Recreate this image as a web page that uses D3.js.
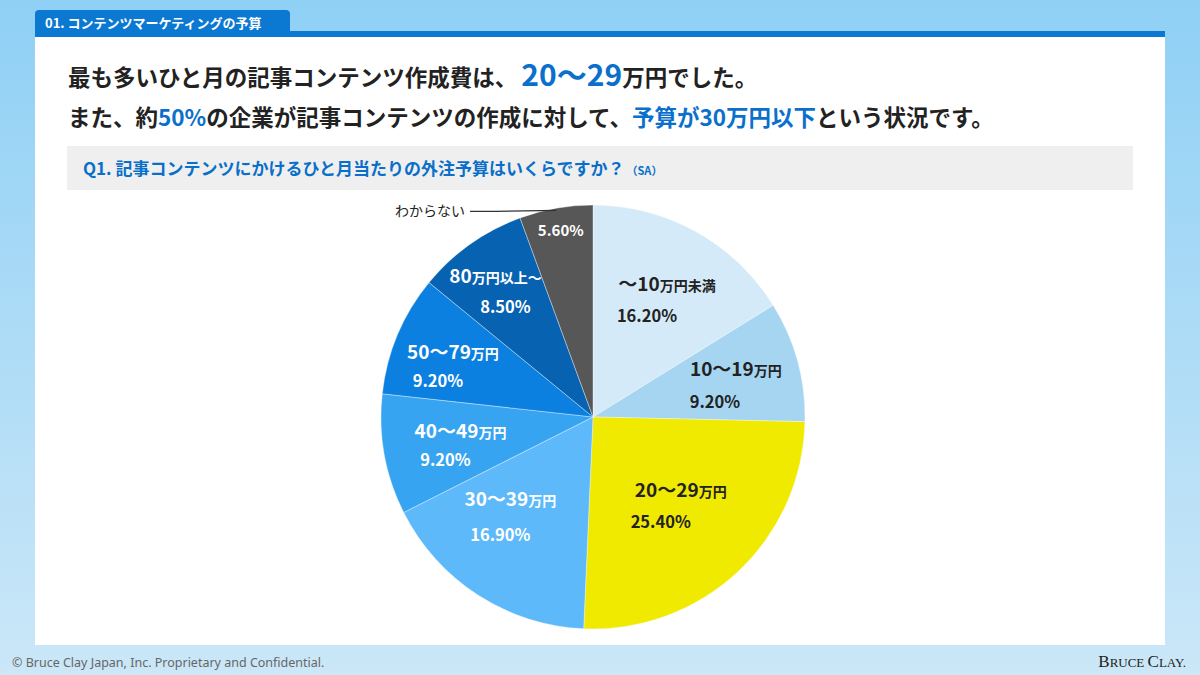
<!DOCTYPE html>
<html lang="ja">
<head>
<meta charset="UTF-8">
<title>コンテンツマーケティングの予算</title>
<script src="https://d3js.org/d3.v7.min.js"></script>
<style>
  body { margin: 0; }
  svg { display: block; }
</style>
</head>
<body>
<script>
    // data
    const rangeMain = ["〜10", "10〜19", "20〜29", "30〜39", "40〜49", "50〜79", "80", ""];
    const rangeUnit = ["万円未満", "万円", "万円", "万円", "万円", "万円", "万円以上〜", ""];
    const categories = ["〜10万円未満", "10〜19万円", "20〜29万円", "30〜39万円", "40〜49万円", "50〜79万円", "80万円以上〜", "わからない"];
    const values = [16.2, 9.2, 25.4, 16.9, 9.2, 9.2, 8.5, 5.6];
    const colors = ["#d5eaf8", "#a6d5f1", "#f0e900", "#5db9f9", "#37a4f2", "#0b80e0", "#0862b2", "#575757"];
    const textColors = ["#222", "#222", "#222", "#fff", "#fff", "#fff", "#fff", "#fff"];

    // hand placement tweaks of the labels, as in the original slide
    const labelNudge = [[0, 1], [4, 3], [-13, -11], [-17, -17], [-7, 5], [-23, 3], [-27, -15], [0, 0]];
    const pctNudge = [[-4, 0], [-1, 3], [-17, -12], [-11, -14], [-6, 1], [-22, -1], [-1, -17], [0, 0]];

    const WIDTH = 1200, HEIGHT = 675;
    const cx = 593, cy = 417, R = 212;
    const FONT = "'Noto Sans CJK JP', 'Noto Sans', sans-serif";

    const svg = d3.select("body").append("svg").attr("width", WIDTH).attr("height", HEIGHT)
        .style("font-family", FONT);

    // background
    const defs = svg.append("defs");
    const grad = defs.append("linearGradient").attr("id", "bg").attr("x1", 0).attr("y1", 0).attr("x2", 0).attr("y2", 1);
    grad.append("stop").attr("offset", "0%").attr("stop-color", "#8fd0f5");
    grad.append("stop").attr("offset", "100%").attr("stop-color", "#cbe7f8");
    svg.append("rect").attr("width", WIDTH).attr("height", HEIGHT).attr("fill", "url(#bg)");

    // panel
    svg.append("rect").attr("x", 35).attr("y", 36).attr("width", 1130).attr("height", 609).attr("fill", "#fff");
    svg.append("rect").attr("x", 35).attr("y", 31).attr("width", 1130).attr("height", 6).attr("fill", "#0b78d2");
    svg.append("path").attr("d", "M35,37 V14 Q35,10 39,10 H286 Q290,10 290,14 V37 Z").attr("fill", "#0b78d2");
    svg.append("text").attr("x", 45).attr("y", 28).attr("fill", "#fff")
        .attr("font-size", 13).attr("font-weight", 700).text("01. コンテンツマーケティングの予算");

    // headline
    const h1 = svg.append("text").attr("x", 68).attr("y", 86).attr("font-size", 22.5).attr("font-weight", 700).attr("fill", "#222");
    h1.append("tspan").text("最も多いひと月の記事コンテンツ作成費は、");
    h1.append("tspan").attr("fill", "#0a70cc").attr("font-size", 30).attr("dx", 4).text("20〜29");
    h1.append("tspan").text("万円でした。");

    const h2 = svg.append("text").attr("x", 68).attr("y", 126).attr("font-size", 22.5).attr("font-weight", 700).attr("fill", "#222");
    h2.append("tspan").text("また、約");
    h2.append("tspan").attr("fill", "#0a70cc").text("50%");
    h2.append("tspan").text("の企業が記事コンテンツの作成に対して、");
    h2.append("tspan").attr("fill", "#0a70cc").text("予算が30万円以下");
    h2.append("tspan").text("という状況です。");

    // question bar
    svg.append("rect").attr("x", 67).attr("y", 146).attr("width", 1066).attr("height", 44).attr("fill", "#efefef");
    const q = svg.append("text").attr("x", 83).attr("y", 175).attr("font-size", 17).attr("font-weight", 700).attr("fill", "#0a6fc8");
    q.append("tspan").text("Q1. 記事コンテンツにかけるひと月当たりの外注予算はいくらですか？");
    q.append("tspan").attr("font-size", 11).attr("dx", 2).text("（SA）");

    // pie
    const pie = d3.pie().sort(null).value(d => d);
    const arcs = pie(values);
    const arc = d3.arc().innerRadius(0).outerRadius(R);
    const g = svg.append("g").attr("transform", `translate(${cx},${cy})`);

    g.selectAll("path.slice").data(arcs).join("path")
        .attr("class", "slice")
        .attr("d", arc)
        .attr("fill", (d, i) => colors[i])
        .attr("stroke", "rgba(255,255,255,0.45)")
        .attr("stroke-width", 0.8);

    // labels
    const labelArc = d3.arc().innerRadius(R * 0.64).outerRadius(R * 0.64);
    const smallArc = d3.arc().innerRadius(R * 0.87).outerRadius(R * 0.87);
    const fmt = d3.format(".2f");

    arcs.forEach((d, i) => {
        const small = values[i] < 6;
        const [x, y] = small ? smallArc.centroid(d) : labelArc.centroid(d);
        const col = textColors[i];
        if (!small) {
            const t = g.append("text").attr("x", x + 8 + labelNudge[i][0]).attr("y", y - 8 + labelNudge[i][1])
                .attr("text-anchor", "middle").attr("font-weight", 700).attr("fill", col);
            t.append("tspan").attr("font-size", 19).text(rangeMain[i]);
            t.append("tspan").attr("font-size", 14).text(rangeUnit[i]);
            g.append("text").attr("x", x - 8 + pctNudge[i][0]).attr("y", y + 24 + pctNudge[i][1])
                .attr("text-anchor", "middle").attr("font-size", 16.5).attr("font-weight", 700)
                .attr("fill", col).text(fmt(values[i]) + "%");
        } else {
            g.append("text").attr("x", x).attr("y", y + 1)
                .attr("text-anchor", "middle").attr("font-size", 15).attr("font-weight", 700)
                .attr("fill", col).text(fmt(values[i]) + "%");
            // outside label with leader
            const edge = d3.arc().innerRadius(R * 0.99).outerRadius(R * 0.99).centroid(d);
            const lx = -R * 0.58, ly = -R * 0.97;
            g.append("path").attr("d", `M${lx},${ly} L${lx + 25},${ly} L${edge[0]},${edge[1]}`)
                .attr("fill", "none").attr("stroke", "#333").attr("stroke-width", 1.2);
            g.append("text").attr("x", lx - 5).attr("y", ly + 5)
                .attr("text-anchor", "end").attr("font-size", 14).attr("fill", "#222").text(categories[i]);
        }
    });

    // footer
    svg.append("text").attr("x", 12).attr("y", 667).attr("font-size", 12.5).attr("fill", "#666")
        .attr("font-family", "'Noto Sans', sans-serif").text("© Bruce Clay Japan, Inc. Proprietary and Confidential.");
    const brand = svg.append("text").attr("x", 1186).attr("y", 667).attr("text-anchor", "end")
        .attr("font-family", "'Liberation Serif', 'DejaVu Serif', serif").attr("fill", "#222");
    brand.append("tspan").attr("font-size", 17).text("B");
    brand.append("tspan").attr("font-size", 13).text("RUCE ");
    brand.append("tspan").attr("font-size", 17).text("C");
    brand.append("tspan").attr("font-size", 13).text("LAY.");
</script>
</body>
</html>
